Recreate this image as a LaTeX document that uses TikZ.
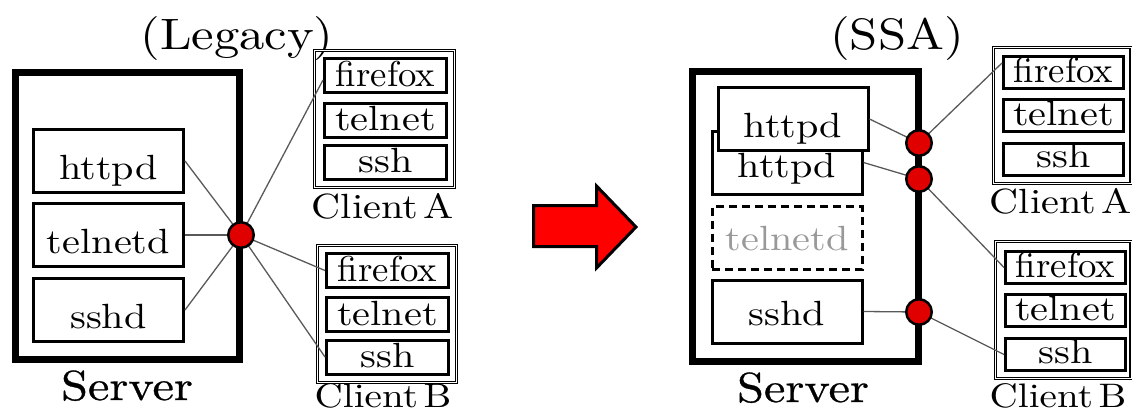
\documentclass[tikz,border=0pt]{standalone}
\usepackage{fontspec}
\newfontfamily\widefont{lmroman10-regular}[Extension=.otf, FakeStretch=1.15]
\newfontfamily\plainfont{lmroman10-regular}[Extension=.otf, FakeStretch=1.02]
\newfontfamily\widebold{lmroman10-regular}[Extension=.otf, FakeStretch=1.15, FakeBold=0.7]
\begin{document}
\begin{tikzpicture}[x=1pt,y=-1pt,
  srv/.style={draw, line width=7pt, minimum width=224pt, minimum height=287pt, inner sep=0pt},
  proc/.style={draw, fill=white, line width=3pt, minimum width=150pt, minimum height=63pt, inner sep=0pt,
    font=\widefont\fontsize{35}{40}\selectfont, text height=36pt, text depth=0pt},
  ghost/.style={proc, dash pattern=on 8pt off 5pt, text=black!40},
  cli/.style={draw, double, double distance=0.8pt, line width=1.4pt, inner sep=0pt},
  app/.style={draw, line width=3pt, minimum width=122pt, minimum height=34pt, inner sep=0pt,
    font=\widefont\fontsize{35}{40}\selectfont, text height=21pt, text depth=0pt},
  ff/.style={font=\plainfont\fontsize{36}{40}\selectfont},
  lbl/.style={anchor=base, inner sep=0pt, font=\widefont\fontsize{35}{40}\selectfont},
  lblb/.style={lbl, font=\widefont\fontsize{34}{40}\selectfont},
  title/.style={anchor=base, inner sep=0pt, font=\widefont\fontsize{44}{50}\selectfont},
  srvlbl/.style={anchor=base, inner sep=0pt, font=\widebold\fontsize{42}{48}\selectfont},
  link/.style={draw=black!65, line width=1.3pt},
  port/.style={circle, draw, line width=2.5pt, fill=red!88!black, minimum size=25.5pt, inner sep=0pt}
]
\useasboundingbox (0,0) rectangle (1132,412);

% ---------------- Legacy ----------------
\node[title] (tL) at (237,50) {(Legacy)};
\node[srv] (srvL) at (127.5,216) {};
\node[proc] (hL) at (108.5,161) {httpd};
\node[proc] (tdL) at (108.5,235) {telnetd};
\node[proc] (sdL) at (108.5,310) {sshd};
\node[srvlbl] (slL) at (127,400) {Server};

\node[cli, minimum width=140pt, minimum height=137pt] (cAL) at (384.5,119) {};
\node[app, ff] (faL) at (385.5,75.5) {firefox};
\node[app] (taL) at (385.5,120) {telnet};
\node[app] (saL) at (385.5,162) {ssh};
\node[lbl] (laL) at (383,218) {Client\,A};

\node[cli, minimum width=139pt, minimum height=137pt] (cBL) at (387,314) {};
\node[app, ff] (fbL) at (387.5,270.5) {firefox};
\node[app] (tbL) at (387.5,314.5) {telnet};
\node[app] (sbL) at (387.5,357) {ssh};
\node[lblb] (lbL) at (383,407) {Client\,B};

\coordinate (pL) at (241,235);
\draw[link] (hL.east) -- (pL);
\draw[link] (tdL.east) -- (pL);
\draw[link] (sdL.east) -- (pL);
\draw[link] (pL) -- ([yshift=-4.5pt]faL.west);
\draw[link] (pL) -- (fbL.west);
\draw[link] (pL) -- (sbL.west);
\node[port] (cL) at (pL) {};

% ---------------- Arrow ----------------
\draw[line width=3pt, fill=red, line join=miter]
  (533.5,205.5) -- (596.5,205.5) -- (596.5,186) -- (636,227) -- (596.5,268) -- (596.5,246.5) -- (533.5,246.5) -- cycle;

% ---------------- SSA ----------------
\node[title] (tR) at (897,50) {(SSA)};
\node[srv, minimum width=226pt, minimum height=290pt] (srvR) at (805.5,216.5) {};
\node[proc, text height=29pt] (hbR) at (787,162.5) {httpd};
\node[proc] (hfR) at (793,119) {httpd};
\node[ghost, text height=24pt] (tdR) at (787,238) {telnetd};
\node[proc, text height=27pt] (sdR) at (787,311.5) {sshd};
\node[srvlbl] (slR) at (803,402) {Server};

\node[cli, minimum width=137.5pt, minimum height=136pt] (cAR) at (1062.25,115.5) {};
\node[app, ff, minimum width=120pt, minimum height=32pt, text height=20pt] (faR) at (1063.5,72.5) {firefox};
\node[app, minimum width=120pt, minimum height=32pt, text height=20pt] (taR) at (1063.5,115.5) {telnet};
\node[app, minimum width=120pt, minimum height=32pt, text height=16pt] (saR) at (1063.5,159.5) {ssh};
\node[lbl] (laR) at (1061,213) {Client\,A};

\node[cli, minimum width=135.5pt, minimum height=137pt] (cBR) at (1063.25,310) {};
\node[app, ff, minimum width=120pt, minimum height=32pt, text height=20pt] (fbR) at (1065.5,267.5) {firefox};
\node[app, minimum width=120pt, minimum height=32pt, text height=20pt] (tbR) at (1065.5,310.5) {telnet};
\node[app, minimum width=120pt, minimum height=32pt, text height=18pt] (sbR) at (1065.5,354.5) {ssh};
\node[lblb] (lbR) at (1058,407) {Client\,B};

\coordinate (p1) at (919,143);
\coordinate (p2) at (919,179);
\coordinate (p3) at (919,312);
\draw[link] (hfR.east) -- (p1);
\draw[link] (p1) -- ([yshift=9.5pt]faR.west);
\draw[link] (hbR.east) -- (p2);
\draw[link] (p2) -- (fbR.west);
\draw[link] (sdR.east) -- (p3);
\draw[link] (p3) -- (sbR.west);
\node[port] (c1) at (p1) {};
\node[port] (c2) at (p2) {};
\node[port] (c3) at (p3) {};
\end{tikzpicture}
\end{document}
